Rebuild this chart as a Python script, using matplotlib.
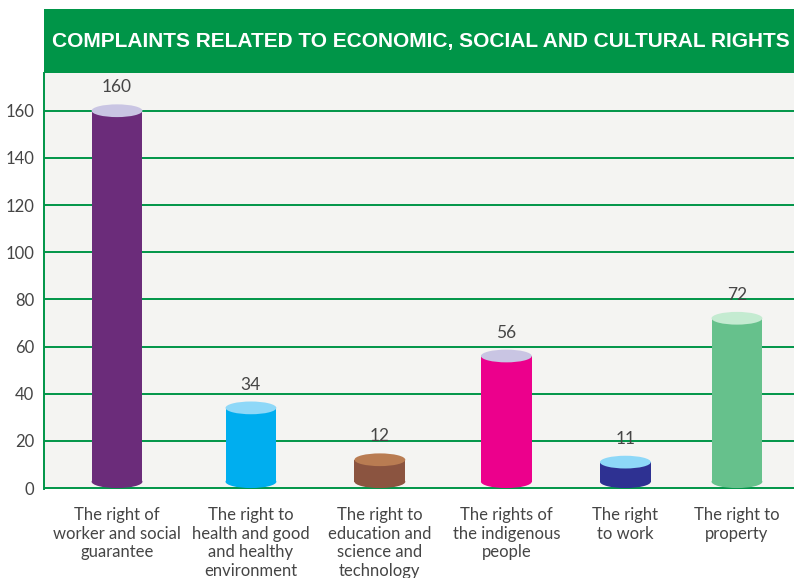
import matplotlib
matplotlib.use('Agg')
import matplotlib.pyplot as plt
from matplotlib.patches import Rectangle, Ellipse

# data
categories = [
	'The right of\nworker and social\nguarantee',
	'The right to\nhealth and good\nand healthy\nenvironment',
	'The right to\neducation and\nscience and\ntechnology',
	'The rights of\nthe indigenous\npeople',
	'The right\nto work',
	'The right to\nproperty',
]
complaints = [160, 34, 12, 56, 11, 72]
yticks = [0, 20, 40, 60, 80, 100, 120, 140, 160]
title = 'COMPLAINTS RELATED TO ECONOMIC, SOCIAL AND CULTURAL RIGHTS'

# layout / style
slots = [0, 1.08, 2.12, 3.14, 4.10, 5.0]
body_colors = ['#6B2C7A', '#00AEEF', '#8B5440', '#EC008C', '#2E3192', '#66C18C']
top_colors = ['#C9C5E3', '#8ED8F8', '#B97C52', '#C9C5E3', '#8ED8F8', '#C4EBD1']
green = '#009548'
text_gray = '#454545'
bar_w = 0.41
ell_h = 5.4  # full height of the cap ellipse in data units

W, H = 794, 578
fig = plt.figure(figsize=(W / 100, H / 100), dpi=100)
fig.patch.set_facecolor('white')

# header band
fig.patches.append(Rectangle((44 / W, 1 - 73 / H), 750 / W, 64 / H,
	transform=fig.transFigure, facecolor=green, edgecolor='none'))
fig.text(52 / W, 1 - 41 / H, title, color='white', fontsize=15,
	fontweight='bold', family='Liberation Sans', va='center', ha='left')

ax = fig.add_axes([44 / W, 1 - 489 / H, 750 / W, 416 / H])
ax.set_facecolor('#F4F4F2')
ax.set_xlim(-0.589, 5.46)
ax.set_ylim(-0.4, 176)

for y in yticks:
	ax.axhline(y, color=green, lw=1.4, zorder=1)

for x, v, bc, tc in zip(slots, complaints, body_colors, top_colors):
	base = ell_h / 2
	ax.add_patch(Ellipse((x, base), bar_w, ell_h, facecolor=bc, edgecolor='none', zorder=3))
	ax.add_patch(Rectangle((x - bar_w / 2, base), bar_w, v - base, facecolor=bc, edgecolor='none', zorder=3))
	ax.add_patch(Ellipse((x, v), bar_w, ell_h, facecolor=tc, edgecolor='none', zorder=4))
	ax.text(x, v + 6.5, str(v), ha='center', va='bottom', fontsize=12.5,
		color=text_gray, family='Lato', zorder=5)

for s in ['top', 'right', 'bottom']:
	ax.spines[s].set_visible(False)
ax.spines['left'].set_color(green)
ax.spines['left'].set_linewidth(1.4)

ax.set_yticks(yticks)
ax.set_yticklabels([str(t) for t in yticks], fontsize=12, color=text_gray, family='Lato')
ax.set_xticks(slots)
ax.set_xticklabels(categories, fontsize=12, color=text_gray, family='Lato', linespacing=1.2)
ax.tick_params(axis='both', length=0)
ax.tick_params(axis='x', pad=13)
ax.tick_params(axis='y', pad=7)

fig.savefig('out.png', dpi=100)
